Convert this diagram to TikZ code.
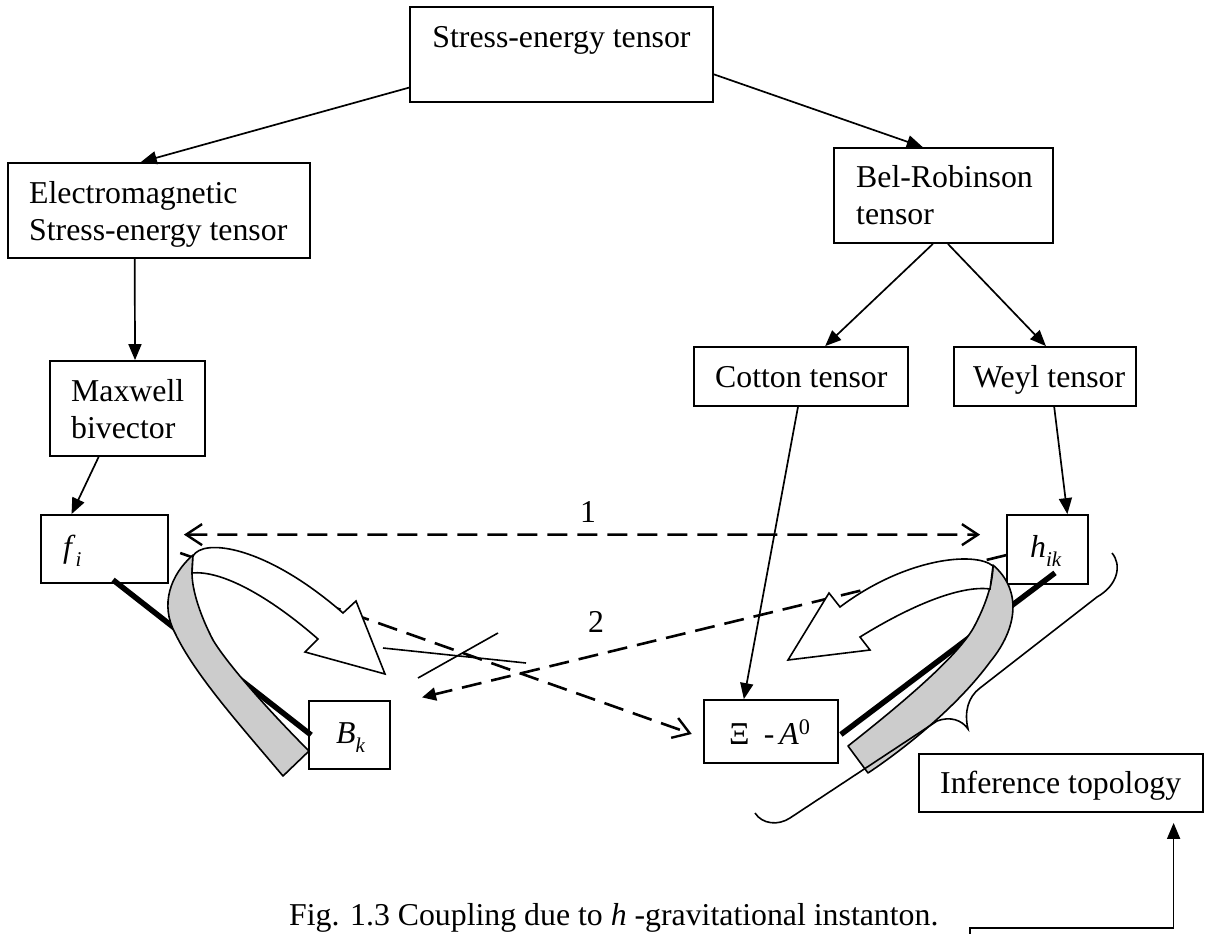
\documentclass[tikz,border=0pt]{standalone}
\usepackage{fontspec}
\setmainfont{Liberation Serif}
\usetikzlibrary{arrows.meta,calc}
\newcommand{\twoln}[2]{\vtop{\hbox{#1}\hbox{#2}}}
\newcommand{\sbx}[1]{\raisebox{-0.3em}{\fontsize{21}{21}\selectfont\textit{#1}}}
\tikzset{
  box/.style={draw, line width=1.8pt, inner sep=0pt, rectangle},
  txt/.style={inner sep=0pt, anchor=base west, font=\fontsize{31.8}{37}\selectfont},
  arr/.style={line width=1.7pt, -{Triangle[length=16pt,width=13pt]}},
  dsh/.style={line width=2.6pt, dash pattern=on 20pt off 10pt},
  openhead/.tip={Straight Barb[length=16pt,width=21pt,line width=2.4pt]},
  band/.style={draw, line width=1.6pt, fill=black!20, line join=round},
  blockarrow/.style={draw, fill=white, line width=1.6pt, line join=miter},
  heavy/.style={line width=5.5pt},
  thinline/.style={line width=1.6pt}
}
\begin{document}
\begin{tikzpicture}[x=1pt,y=-1pt]
\useasboundingbox[fill=white] (0,0) rectangle (1205,934);

% boxes
\node[box, minimum width=303pt, minimum height=95pt] (st) at (561.5,54.5) {};
\node[box, minimum width=302pt, minimum height=95pt] (em) at (159,210.5) {};
\node[box, minimum width=155pt, minimum height=95pt] (mx) at (127.5,408.5) {};
\node[box, minimum width=219pt, minimum height=95pt] (br) at (943.5,195.5) {};
\node[box, minimum width=214pt, minimum height=59pt] (ct) at (801,376.5) {};
\node[box, minimum width=182pt, minimum height=59pt] (wy) at (1045,376.5) {};
\node[box, minimum width=127pt, minimum height=68pt] (fi) at (104.5,549) {};
\node[box, minimum width=81pt, minimum height=69pt] (hk) at (1047.5,549.5) {};
\node[box, minimum width=81pt, minimum height=68pt] (bk) at (349.5,735) {};
\node[box, minimum width=134pt, minimum height=63pt] (xa) at (771,731.5) {};
\node[box, minimum width=284pt, minimum height=58pt] (it) at (1061,783) {};

% texts
\node[txt, anchor=base] (stT) at (561.5,48) {Stress-energy tensor};
\node[txt] (emT) at (29,203) {\twoln{Electromagnetic}{Stress-energy tensor}};
\node[txt] (mxT) at (71,401) {\twoln{Maxwell}{bivector}};
\node[txt] (brT) at (856,187) {\twoln{Bel-Robinson}{tensor}};
\node[txt] (ctT) at (715,387) {Cotton tensor};
\node[txt] (wyT) at (973,387) {Weyl tensor};
\node[txt] (fiT) at (63,557) {\textit{f}\sbx{i}};
\node[txt] (hkT) at (1030,557) {\textit{h}\sbx{ik}};
\node[txt] (bkT) at (336,743) {\textit{B}\sbx{k}};
\node[txt] (xaT) at (729,744) {Ξ\hspace{0.45em}-\hspace{0.15em}\textit{A}\textsuperscript{0}};
\node[txt] (itT) at (940,793) {Inference topology};
\node[txt, anchor=base] (one) at (588,522) {1};
\node[txt, anchor=base] (two) at (596,632) {2};
\node[txt] (cap) at (289,925) {Fig. 1.3 Coupling due to \textit{h}\hspace{0.25em}-gravitational instanton.};

% solid arrows
\draw[arr] ($(st.north west)!0.842!(st.south west)$) -- ($(em.north west)!0.44!(em.north east)$);
\draw[arr] ($(st.north east)!0.705!(st.south east)$) -- ($(br.north west)!0.406!(br.north east)$);
\draw[arr] ($(em.south west)!0.42!(em.south east)$) -- ($(mx.north west)!0.548!(mx.north east)$);
\draw[arr] ($(mx.south west)!0.316!(mx.south east)$) -- ($(fi.north west)!0.244!(fi.north east)$);
\draw[arr] ($(br.south west)!0.452!(br.south east)$) -- ($(ct.north west)!0.612!(ct.north east)$);
\draw[arr] ($(br.south west)!0.52!(br.south east)$) -- ($(wy.north west)!0.505!(wy.north east)$);
\draw[arr] ($(ct.south west)!0.486!(ct.south east)$) -- ($(xa.north west)!0.3!(xa.north east)$);
\draw[arr] ($(wy.south west)!0.55!(wy.south east)$) -- ($(hk.north west)!0.74!(hk.north east)$);

% thick lines
\draw[heavy] ($(fi.south)+(8.5,-4)$) -- ($(bk.west)+(3,0)$);
\draw[heavy] ($(xa.east)+(2,3)$) -- ($(hk.south)+(7.5,-12)$);

% dashed arrows
\draw[dsh, {openhead}-{openhead}, shorten <=15pt, shorten >=26pt]
  ($(fi.north east)!0.294!(fi.south east)$) -- ($(hk.north west)!0.29!(hk.south west)$);
\draw[dsh, -{openhead}, shorten <=12pt, shorten >=12pt]
  (fi.east) -- ($(xa.north west)!0.6!(xa.south west)$);
\draw[dsh, -{Triangle[length=14pt,width=13pt]}, shorten >=32pt]
  ($(hk.north west)!0.58!(hk.south west)$) -- ($(bk.north east)!0.07!(bk.south east)$);

% left band and block arrow
\path[band] (193,555) .. controls (170,575) and (160,605) .. (175,633)
  .. controls (195,675) and (240,725) .. (283,776) -- (309,751)
  .. controls (270,712) and (228,665) .. (213,640)
  .. controls (200,615) and (192,590) .. (192,573) -- cycle;
\path[blockarrow] (193,556) .. controls (203,538) and (265,545) .. (343,613)
  -- (356,601) -- (385,674) -- (305,652) -- (318,639)
  .. controls (270,597) and (222,570) .. (192,573) -- cycle;

% right band and block arrow
\path[band] (993,565) .. controls (1022,590) and (1018,628) .. (990,662)
  .. controls (960,703) and (910,745) .. (868,773) -- (848,746)
  .. controls (900,705) and (960,655) .. (975,625)
  .. controls (988,600) and (993,580) .. (993,565) -- cycle;
\path[blockarrow] (993,566) .. controls (975,551) and (905,558) .. (840,607)
  -- (829,593) -- (788,660) -- (870,650) -- (860,637)
  .. controls (910,606) and (960,585) .. (990,589) -- cycle;

% brace
\draw[thinline] (1112,553) .. controls (1122,565) and (1118,585) .. (1097,597)
  -- (980,688) .. controls (968,697) and (964,712) .. (968,729)
  .. controls (962,720) and (950,716) .. (937,721)
  -- (790,818) .. controls (778,826) and (762,824) .. (755,813);

% crossing lines
\draw[thinline] (383,648) -- (526,663);
\draw[thinline] (418,678) -- (498,633);

% inference topology connector
\coordinate (cfoot) at (970,934);
\draw[arr, shorten >=10pt] (cfoot) -- ++(0,-6) -| ($(it.south west)!0.894!(it.south east)$);
\end{tikzpicture}
\end{document}
